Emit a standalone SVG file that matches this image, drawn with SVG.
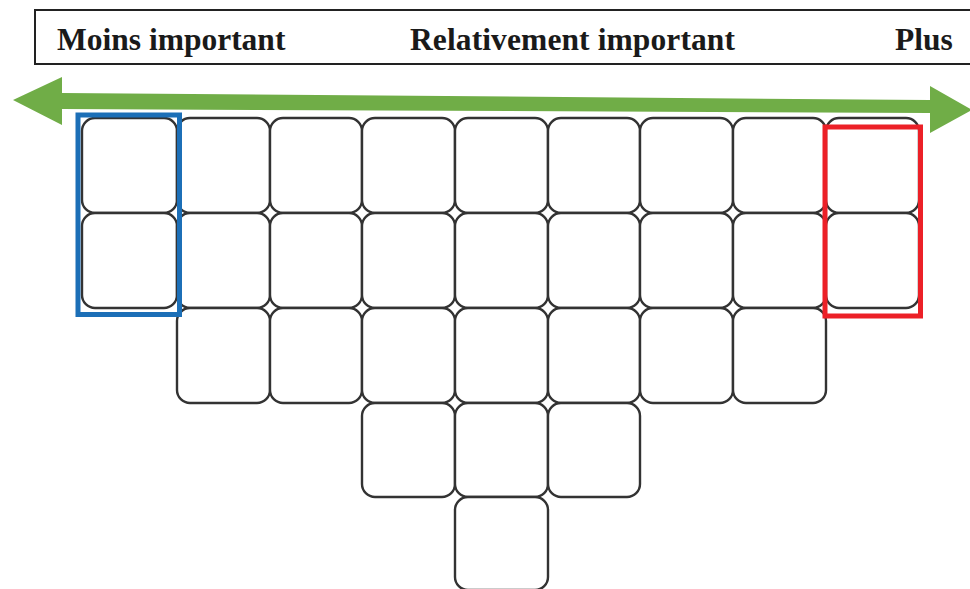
<svg xmlns="http://www.w3.org/2000/svg" width="970" height="589" viewBox="0 0 970 589">
<defs>
<style>
.hdr{fill:#fff;stroke:#222;stroke-width:2}
.lbl{font-family:"Liberation Serif","Times New Roman",serif;font-weight:bold;font-size:31.5px;fill:#1a1a1a}
.tile rect{fill:#fff;stroke:#333;stroke-width:2.4}
.sel{fill:none;stroke-width:5}
</style>
</defs>
<rect width="970" height="589" fill="#fff"/>
<g id="header">
<rect class="hdr" x="35" y="10" width="940" height="54"/>
<text class="lbl" x="57" y="50">Moins important</text>
<text class="lbl" x="410" y="50" textLength="325" lengthAdjust="spacing">Relativement important</text>
<text class="lbl" x="895" y="50">Plus</text>
</g>
<g id="tiles">
<g id="r1c0" class="tile"><rect x="82" y="118" width="95" height="95" rx="13"/></g>
<g id="r1c1" class="tile"><rect x="177" y="118" width="93" height="95" rx="13"/></g>
<g id="r1c2" class="tile"><rect x="270" y="118" width="92" height="95" rx="13"/></g>
<g id="r1c3" class="tile"><rect x="362" y="118" width="93" height="95" rx="13"/></g>
<g id="r1c4" class="tile"><rect x="455" y="118" width="93" height="95" rx="13"/></g>
<g id="r1c5" class="tile"><rect x="548" y="118" width="92" height="95" rx="13"/></g>
<g id="r1c6" class="tile"><rect x="640" y="118" width="93" height="95" rx="13"/></g>
<g id="r1c7" class="tile"><rect x="733" y="118" width="93" height="95" rx="13"/></g>
<g id="r1c8" class="tile"><rect x="826" y="118" width="93" height="95" rx="13"/></g>
<g id="r2c0" class="tile"><rect x="82" y="213" width="95" height="95" rx="13"/></g>
<g id="r2c1" class="tile"><rect x="177" y="213" width="93" height="95" rx="13"/></g>
<g id="r2c2" class="tile"><rect x="270" y="213" width="92" height="95" rx="13"/></g>
<g id="r2c3" class="tile"><rect x="362" y="213" width="93" height="95" rx="13"/></g>
<g id="r2c4" class="tile"><rect x="455" y="213" width="93" height="95" rx="13"/></g>
<g id="r2c5" class="tile"><rect x="548" y="213" width="92" height="95" rx="13"/></g>
<g id="r2c6" class="tile"><rect x="640" y="213" width="93" height="95" rx="13"/></g>
<g id="r2c7" class="tile"><rect x="733" y="213" width="93" height="95" rx="13"/></g>
<g id="r2c8" class="tile"><rect x="826" y="213" width="93" height="95" rx="13"/></g>
<g id="r3c1" class="tile"><rect x="177" y="308" width="93" height="95" rx="13"/></g>
<g id="r3c2" class="tile"><rect x="270" y="308" width="92" height="95" rx="13"/></g>
<g id="r3c3" class="tile"><rect x="362" y="308" width="93" height="95" rx="13"/></g>
<g id="r3c4" class="tile"><rect x="455" y="308" width="93" height="95" rx="13"/></g>
<g id="r3c5" class="tile"><rect x="548" y="308" width="92" height="95" rx="13"/></g>
<g id="r3c6" class="tile"><rect x="640" y="308" width="93" height="95" rx="13"/></g>
<g id="r3c7" class="tile"><rect x="733" y="308" width="93" height="95" rx="13"/></g>
<g id="r4c3" class="tile"><rect x="362" y="403" width="93" height="94" rx="13"/></g>
<g id="r4c4" class="tile"><rect x="455" y="403" width="93" height="94" rx="13"/></g>
<g id="r4c5" class="tile"><rect x="548" y="403" width="92" height="94" rx="13"/></g>
<g id="r5c4" class="tile"><rect x="455" y="497" width="93" height="93" rx="13"/></g>
</g>
<g id="connectors">
<polygon id="arrow" fill="#70AD47" points="13,100 62,77 62,93 930,100 930,86 972,110 930,133 930,113 62,109 62,125"/>
</g>
<g id="blue-box"><rect class="sel" stroke="#1C6FB7" x="78" y="115" width="101.5" height="199.5"/></g>
<g id="red-box"><rect class="sel" stroke="#EC2027" x="825" y="127" width="95.5" height="189"/></g>
</svg>
